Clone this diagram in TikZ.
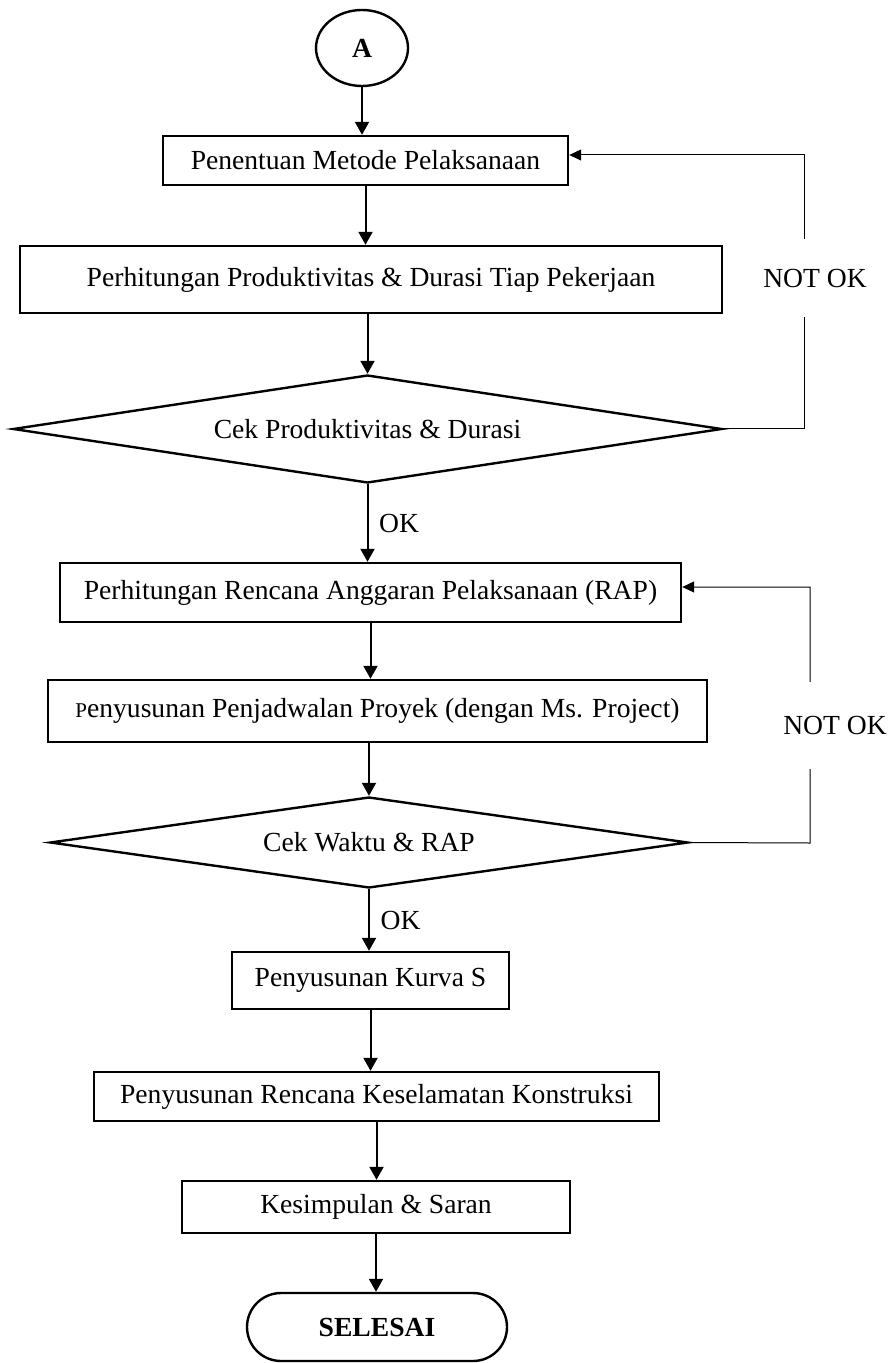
\documentclass[tikz,border=0pt]{standalone}
\usepackage{fontspec}
\setmainfont{Liberation Serif}
\usetikzlibrary{shapes.geometric,arrows.meta}
\tikzset{
    proses/.style={draw, line width=1.2pt, rectangle, inner sep=0pt, align=center},
    keputusan/.style={draw, line width=1.2pt, diamond, aspect=6.5, inner sep=0pt},
    panah/.style={line width=1pt, -{Triangle[length=6.5pt,width=7pt]}},
    balik/.style={line width=0.5pt, -{Triangle[length=6pt,width=5.5pt]}},
    label/.style={fill=white, inner sep=0pt}
}
\begin{document}
\begin{tikzpicture}[x=0.5pt, y=-0.5pt, font=\fontsize{13.8}{16}\selectfont]
\useasboundingbox (0,0) rectangle (893,1363);
% alur utama
\node[draw, line width=1.2pt, ellipse, minimum width=46pt, minimum height=38pt, inner sep=0pt] (A) at (362,48) {\textbf{A}};
\node[proses, minimum width=202.5pt, minimum height=24.5pt] (metode) at (365.5,160.5) {Penentuan Metode Pelaksanaan};
\node[proses, minimum width=351pt, minimum height=33.5pt] (durasi) at (371,279.5) {Perhitungan Produktivitas \& Durasi Tiap Pekerjaan};
\node[keputusan, minimum width=354.5pt, minimum height=54pt] (cekprod) at (367.5,429) {Cek Produktivitas \& Durasi};
\node[proses, minimum width=310.5pt, minimum height=29.5pt] (rap) at (370.5,592.5) {Perhitungan Rencana Anggaran Pelaksanaan (RAP)};
\node[proses, minimum width=329.5pt, minimum height=31pt] (jadwal) at (377.5,711) {{\fontsize{10.5}{12}\selectfont P}enyusunan Penjadwalan Proyek (dengan Ms. Project)};
\node[keputusan, minimum width=319pt, minimum height=45.5pt] (cekwaktu) at (369,842.5) {Cek Waktu \& RAP};
\node[proses, minimum width=138.5pt, minimum height=28.5pt] (kurva) at (370.5,980.5) {Penyusunan Kurva S};
\node[proses, minimum width=282.5pt, minimum height=24.5pt] (k3) at (376.5,1096.5) {Penyusunan Rencana Keselamatan Konstruksi};
\node[proses, minimum width=194pt, minimum height=26pt] (saran) at (376,1207) {Kesimpulan \& Saran};
\node[draw, line width=1.2pt, rectangle, rounded corners=17pt, minimum width=130pt, minimum height=34pt, inner sep=0pt] (selesai) at (377,1327) {\textbf{SELESAI}};

\draw[panah] (A.south) -- (A.south |- metode.north);
\draw[panah] (metode.south) -- (metode.south |- durasi.north);
\draw[panah] (durasi.south -| cekprod.north) -- (cekprod.north);
\draw[panah] (cekprod.south) -- node[right, xshift=2pt] {OK} (cekprod.south |- rap.north);
\draw[panah] (rap.south) -- (rap.south |- jadwal.north);
\draw[panah] (jadwal.south -| cekwaktu.north) -- (cekwaktu.north);
\draw[panah] (cekwaktu.south) -- node[right, xshift=2pt] {OK} (cekwaktu.south |- kurva.north);
\draw[panah] (kurva.south) -- (kurva.south |- k3.north);
\draw[panah] (k3.south) -- (k3.south |- saran.north);
\draw[panah] (saran.south) -- (saran.south |- selesai.north);

% umpan balik
\coordinate (b1) at (804,429);
\coordinate (t1) at (804,155);
\draw[balik] (cekprod.east) -- (b1) -- node[label, minimum height=39pt, xshift=5.5pt, pos=0.55] {NOT OK} (t1) -- (t1 -| metode.east);
\coordinate (b2) at (810,843);
\coordinate (t2) at (810,587);
\draw[balik] (cekwaktu.east) -- (b2) -- node[label, minimum height=43.5pt, xshift=12.5pt, pos=0.46] {NOT OK} (t2) -- (t2 -| rap.east);
\end{tikzpicture}
\end{document}
